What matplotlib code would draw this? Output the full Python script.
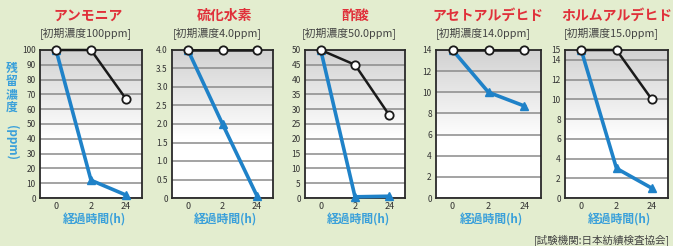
import matplotlib
matplotlib.use("Agg")
import matplotlib.pyplot as plt
import numpy as np

plt.rcParams['font.family'] = ['Noto Sans CJK JP', 'DejaVu Sans']

# ---- data ----
times = ["0", "2", "24"]
titles = ["アンモニア", "硫化水素", "酢酸", "アセトアルデヒド", "ホルムアルデヒド"]
subtitles = ["[初期濃度100ppm]", "[初期濃度4.0ppm]", "[初期濃度50.0ppm]",
             "[初期濃度14.0ppm]", "[初期濃度15.0ppm]"]
control = [
    [100, 100, 67],
    [4.0, 4.0, 4.0],
    [50, 45, 28],
    [14, 14, 14],
    [15, 15, 10],
]
treated = [
    [100, 12, 2],
    [4.0, 2.0, 0.05],
    [50, 0.4, 0.6],
    [14, 10, 8.7],
    [15, 3, 1],
]
ymax = [100, 4.0, 50, 14, 15]
yticks = [
    [0, 10, 20, 30, 40, 50, 60, 70, 80, 90, 100],
    [0, 0.5, 1.0, 1.5, 2.0, 2.5, 3.0, 3.5, 4.0],
    [0, 5, 10, 15, 20, 25, 30, 35, 40, 45, 50],
    [0, 2, 4, 6, 8, 10, 12, 14],
    [0, 2, 4, 6, 8, 10, 12, 14, 15],
]
ytick_labels = [
    ["0", "10", "20", "30", "40", "50", "60", "70", "80", "90", "100"],
    ["0", "0.5", "1.0", "1.5", "2.0", "2.5", "3.0", "3.5", "4.0"],
    ["0", "5", "10", "15", "20", "25", "30", "35", "40", "45", "50"],
    ["0", "2", "4", "6", "8", "10", "12", "14"],
    ["0", "2", "4", "6", "8", "10", "12", "14", "15"],
]
ylabel_cjk = "残留濃度"
ylabel_unit = "(ppm)"
xlabel = "経過時間(h)"
credit = "[試験機関:日本紡績検査協会]"

# ---- style ----
W, H = 673, 246
bg = "#e3edcf"
red = "#e0303a"
blue = "#1f82c8"
lblue = "#3aa0da"

fig = plt.figure(figsize=(W / 100, H / 100), dpi=100, facecolor=bg)

boxes = [(40, 142), (172, 273), (305, 405), (436, 541), (565, 668)]
title_x = [88, 225, 355, 488, 617]
top_px, bot_px = 50, 198

grad = np.linspace(0, 1, 256).reshape(-1, 1)
vals = np.clip(0.82 + 0.18 * (grad / 0.6), 0, 1)
img = np.dstack([vals, vals, vals])

for i in range(5):
    l, r = boxes[i]
    ax = fig.add_axes([l / W, (H - bot_px) / H, (r - l) / W, (bot_px - top_px) / H])
    ax.set_facecolor("white")
    ax.imshow(img, extent=[-0.46, 2.46, 0, ymax[i]], aspect="auto",
              origin="upper", zorder=0)
    x = np.arange(len(times))
    for yv in yticks[i]:
        ax.axhline(yv, color="#8a8a8a", lw=1.1, zorder=1)
    ax.plot(x, treated[i], color=blue, lw=2.6, marker="^", ms=6,
            mfc=blue, mec=blue, zorder=3, clip_on=False)
    ax.plot(x, control[i], color="#1a1a1a", lw=1.8, marker="o", ms=6,
            mfc="white", mec="#1a1a1a", mew=1.3, zorder=4, clip_on=False)
    ax.set_xlim(-0.46, 2.46)
    ax.set_ylim(0, ymax[i])
    ax.set_xticks(x)
    ax.set_xticklabels(times, fontsize=6.5, color="#333333")
    ax.set_yticks(yticks[i])
    ax.set_yticklabels(ytick_labels[i], fontsize=6, color="#333333")
    ax.tick_params(length=0, pad=3)
    for s in ax.spines.values():
        s.set_color("#2a2a2a")
        s.set_linewidth(1.3)
    cx = (l + r) / 2 / W
    fig.text(title_x[i] / W, 1 - 16 / H, titles[i], color=red, fontsize=10,
             fontweight="bold", ha="center", va="center")
    fig.text(cx - 0.008, 1 - 33 / H, subtitles[i], color="#444444", fontsize=7.8,
             ha="center", va="center")
    fig.text(cx + 0.005, 1 - 220 / H, xlabel, color=lblue, fontsize=8.5,
             fontweight="bold", ha="center", va="center")

# y label (vertical)
fig.text(12 / W, 1 - 88 / H, "\n".join(ylabel_cjk), color=lblue, fontsize=8.5,
         fontweight="bold", ha="center", va="center", linespacing=1.0)
fig.text(12 / W, 1 - 142 / H, ylabel_unit, color=lblue, fontsize=8.5,
         fontweight="bold", ha="center", va="center", rotation=-90)

fig.text(670 / W, 1 - 240 / H, credit, color="#444444", fontsize=7.6,
         ha="right", va="center")

fig.savefig("out.png", dpi=100, facecolor=bg)
